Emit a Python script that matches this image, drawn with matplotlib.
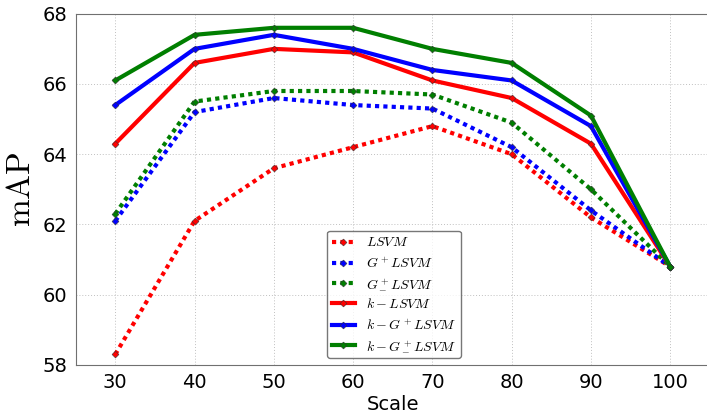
import matplotlib
matplotlib.use('Agg')
import matplotlib.pyplot as plt

plt.rcParams['mathtext.fontset'] = 'cm'

scales = [30, 40, 50, 60, 70, 80, 90, 100]

lsvm = [58.3, 62.1, 63.6, 64.2, 64.8, 64.0, 62.2, 60.8]
gp_lsvm = [62.1, 65.2, 65.6, 65.4, 65.3, 64.2, 62.4, 60.8]
gpm_lsvm = [62.3, 65.5, 65.8, 65.8, 65.7, 64.9, 63.0, 60.8]
k_lsvm = [64.3, 66.6, 67.0, 66.9, 66.1, 65.6, 64.3, 60.8]
k_gp_lsvm = [65.4, 67.0, 67.4, 67.0, 66.4, 66.1, 64.8, 60.8]
k_gpm_lsvm = [66.1, 67.4, 67.6, 67.6, 67.0, 66.6, 65.1, 60.8]

labels = [r'$LSVM$', r'$G^+LSVM$', r'$G^+_-LSVM$',
          r'$k-LSVM$', r'$k-G^+LSVM$', r'$k-G^+_-LSVM$']

fig = plt.figure(figsize=(7.07, 4.17), dpi=100)
ax = fig.add_axes([0.107, 0.125, 0.897, 0.842])

series = [lsvm, gp_lsvm, gpm_lsvm, k_lsvm, k_gp_lsvm, k_gpm_lsvm]
colors = ['#ff0000', '#0000ff', '#007f00', '#ff0000', '#0000ff', '#007f00']
styles = [(0, (1, 1))] * 3 + ['-'] * 3

for vals, c, ls, lab in zip(series, colors, styles, labels):
    ax.plot(scales, vals, color=c, linestyle=ls, linewidth=3,
            marker='D', markersize=3.5, markeredgecolor='#333333',
            markeredgewidth=0.4, label=lab)

ax.set_xlim(25, 105)
ax.set_ylim(58, 68)
ax.set_xticks(scales)
ax.set_yticks([58, 60, 62, 64, 66, 68])
ax.tick_params(labelsize=14, length=0, pad=6)
ax.grid(True, linestyle=(0, (1, 2)), color='#c0c0c0', linewidth=0.7)
for s in ax.spines.values():
    s.set_color('#707070')

ax.set_xlabel('Scale', fontsize=14, labelpad=2)
ax.set_ylabel(r'$\mathrm{mAP}$', fontsize=24, labelpad=4)

leg = ax.legend(loc='lower left', bbox_to_anchor=(0.396, 0.02),
                borderaxespad=0, fontsize=10, handlelength=1.7,
                labelspacing=0.45, borderpad=0.35, fancybox=True)
leg.get_frame().set_edgecolor('#555555')

fig.savefig('out.png', dpi=100)
